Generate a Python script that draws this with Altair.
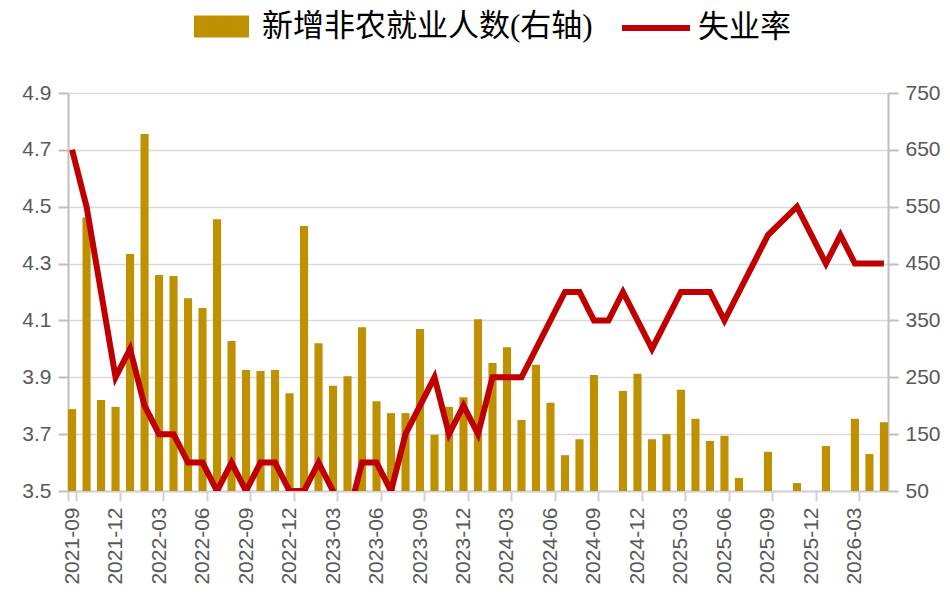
import altair as alt
import pandas as pd

months = [
    "2021-09", "2021-10", "2021-11", "2021-12",
    "2022-01", "2022-02", "2022-03", "2022-04", "2022-05", "2022-06",
    "2022-07", "2022-08", "2022-09", "2022-10", "2022-11", "2022-12",
    "2023-01", "2023-02", "2023-03", "2023-04", "2023-05", "2023-06",
    "2023-07", "2023-08", "2023-09", "2023-10", "2023-11", "2023-12",
    "2024-01", "2024-02", "2024-03", "2024-04", "2024-05", "2024-06",
    "2024-07", "2024-08", "2024-09", "2024-10", "2024-11", "2024-12",
    "2025-01", "2025-02", "2025-03", "2025-04", "2025-05", "2025-06",
    "2025-07", "2025-08", "2025-09", "2025-10", "2025-11", "2025-12",
    "2026-01", "2026-02", "2026-03", "2026-04", "2026-05",
]

# 新增非农就业人数 (千人), None = below the 50 axis floor
payrolls = [
    194, 531, 210, 198,
    467, 678, 430, 428, 389, 372,
    528, 314, 263, 261, 263, 222,
    516, 310, 235, 252, 338, 208,
    187, 187, 335, 149, 198, 215,
    352, 275, 303, 175, 272, 205,
    113, 141, 254, None, 226, 256,
    141, 150, 228, 177, 138, 147,
    73, None, 119, None, 64, None,
    129, None, 177, 115, 171,
]

# 失业率 (%), 2025-10 not published
jobless = [
    4.7, 4.5, 4.2, 3.9,
    4.0, 3.8, 3.7, 3.7, 3.6, 3.6,
    3.5, 3.6, 3.5, 3.6, 3.6, 3.5,
    3.5, 3.6, 3.5, 3.4, 3.6, 3.6,
    3.5, 3.7, 3.8, 3.9, 3.7, 3.8,
    3.7, 3.9, 3.9, 3.9, 4.0, 4.1,
    4.2, 4.2, 4.1, 4.1, 4.2, 4.1,
    4.0, 4.1, 4.2, 4.2, 4.2, 4.1,
    4.2, 4.3, 4.4, None, 4.5, 4.4,
    4.3, 4.4, 4.3, 4.3, 4.3,
]

bar_name = "新增非农就业人数(右轴)"
line_name = "失业率"

x_labels = months[::3]
left_ticks = [3.5, 3.7, 3.9, 4.1, 4.3, 4.5, 4.7, 4.9]
right_ticks = [50, 150, 250, 350, 450, 550, 650, 750]

df = pd.DataFrame({"month": months, "payrolls": payrolls, "jobless": jobless})
df["bar_name"] = bar_name
df["line_name"] = line_name

label_font = "Liberation Sans"
legend_font = "Liberation Serif, Noto Sans CJK SC"
grey = "#595959"

x_enc = alt.X(
    "month:O",
    sort=months,
    title=None,
    scale=alt.Scale(paddingInner=0.44, paddingOuter=0.0),
    axis=alt.Axis(
        values=x_labels,
        labelAngle=270,
        labelFont=label_font,
        labelFontSize=21,
        labelColor=grey,
        labelPadding=6,
        tickBand="extent",
        tickSize=10,
        tickColor="#D0D0DA",
        tickWidth=2,
        domainColor="#D0D0DA",
        domainWidth=2,
    ),
)

bars = (
    alt.Chart(df)
    .mark_bar(clip=True)
    .encode(
        x=x_enc,
        y=alt.Y(
            "payrolls:Q",
            title=None,
            scale=alt.Scale(domain=[50, 750], nice=False, zero=False),
            axis=alt.Axis(
                orient="right",
                values=right_ticks,
                grid=False,
                labelFont=label_font,
                labelFontSize=21,
                labelColor=grey,
                labelPadding=7,
                tickSize=10,
                tickColor="#BFBFBF",
                tickWidth=2,
                domainColor="#BFBFBF",
                domainWidth=2,
            ),
        ),
        y2=alt.Y2Datum(50),
        color=alt.Color(
            "bar_name:N",
            scale=alt.Scale(domain=[bar_name], range=["#BF9000"]),
            legend=alt.Legend(
                title=None,
                orient="none",
                legendX=138,
                legendY=-82,
                padding=0,
                symbolType="M-2,-0.8H2V0.8H-2Z",
                symbolSize=756,
                symbolStrokeWidth=0,
                labelOffset=25,
                labelLimit=500,
                labelFont=legend_font,
                labelFontSize=31,
                labelColor="#000000",
            ),
        ),
    )
)

line = (
    alt.Chart(df)
    .transform_filter("isValid(datum.jobless)")
    .mark_line(strokeWidth=6, clip=True)
    .encode(
        x=x_enc,
        y=alt.Y(
            "jobless:Q",
            title=None,
            scale=alt.Scale(domain=[3.5, 4.9], nice=False, zero=False),
            axis=alt.Axis(
                orient="left",
                values=left_ticks,
                format=".1f",
                grid=True,
                gridColor="#D9D9D9",
                gridWidth=1.5,
                labelFont=label_font,
                labelFontSize=21,
                labelColor=grey,
                labelPadding=7,
                tickSize=10,
                tickColor="#BFBFBF",
                tickWidth=2,
                domainColor="#BFBFBF",
                domainWidth=2,
            ),
        ),
        stroke=alt.Stroke(
            "line_name:N",
            scale=alt.Scale(domain=[line_name], range=["#C00000"]),
            legend=alt.Legend(
                title=None,
                orient="none",
                legendX=571,
                legendY=-82,
                padding=0,
                symbolType="M-2.5,0H2.5",
                symbolSize=740,
                symbolStrokeWidth=6,
                labelOffset=25,
                labelLimit=300,
                labelFont=legend_font,
                labelFontSize=31,
                labelColor="#000000",
            ),
        ),
    )
)

chart = (
    alt.layer(bars, line)
    .resolve_scale(y="independent")
    .properties(
        width=820,
        height=398,
        autosize=alt.AutoSizeParams(type="none"),
        padding={"left": 60, "top": 85, "right": 54, "bottom": 110},
    )
    .configure_view(stroke=None)
    .configure(background="#FFFFFF")
)

chart.save("out.html", embed_options={"renderer": "svg", "actions": False})
